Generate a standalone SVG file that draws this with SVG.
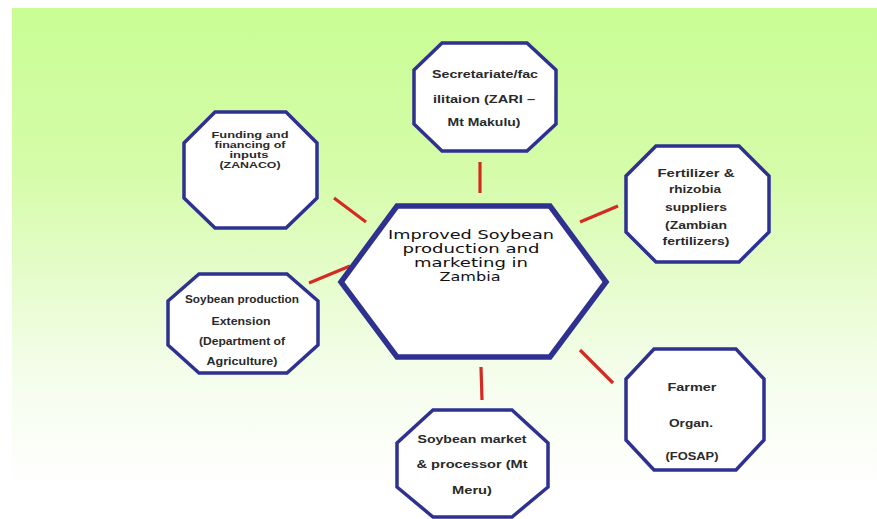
<svg xmlns="http://www.w3.org/2000/svg" width="877" height="519" viewBox="0 0 877 519">
<defs>
<linearGradient id="bg" x1="0" y1="0" x2="0" y2="1">
<stop offset="0" stop-color="#c9fd94"/>
<stop offset="0.35" stop-color="#d6fcaa"/>
<stop offset="0.75" stop-color="#f4fdea"/>
<stop offset="1" stop-color="#ffffff"/>
</linearGradient>
<style>
.oct{fill:#fff;stroke:#2e3190;stroke-width:3.5;stroke-linejoin:miter}
.hex{fill:#fff;stroke:#2e3190;stroke-width:5.5}
.lbl{font-family:"Liberation Sans",Arial,sans-serif;font-size:11.5px;font-weight:bold;fill:#2a2a2a;text-anchor:middle}
.sm{font-size:9.5px}
.ctr{font-family:"DejaVu Sans",sans-serif;font-size:12px;fill:#111;text-anchor:middle}
.con line{stroke:#d42a22;stroke-width:3.2;stroke-linecap:butt}
</style>
</defs>
<rect x="0" y="0" width="877" height="519" fill="#fff"/>
<rect x="12" y="8" width="865" height="482" fill="url(#bg)"/>

<g id="connectors" class="con">
<line x1="334" y1="198" x2="366" y2="222"/>
<line x1="480" y1="162" x2="480" y2="193"/>
<line x1="580" y1="222" x2="618" y2="206"/>
<line x1="309" y1="283" x2="350" y2="266"/>
<line x1="580" y1="350" x2="613" y2="383"/>
<line x1="481" y1="367" x2="482" y2="400"/>
</g>

<g id="center">
<polygon class="hex" points="397,206 550,206 606,282 550,357 397,357 341,282"/>
<text class="ctr"><tspan x="471" y="239" textLength="166" lengthAdjust="spacingAndGlyphs">Improved Soybean</tspan><tspan x="471" y="253" textLength="137" lengthAdjust="spacingAndGlyphs">production and</tspan><tspan x="471" y="267" textLength="114" lengthAdjust="spacingAndGlyphs">marketing in</tspan><tspan x="470" y="281" textLength="61" lengthAdjust="spacingAndGlyphs">Zambia</tspan></text>
</g>

<g id="funding">
<polygon class="oct" points="215,112 286,112 317,143 317,198 286,228 215,228 184,198 184,143"/>
<text class="lbl sm"><tspan x="250" y="138" textLength="77" lengthAdjust="spacingAndGlyphs">Funding and</tspan><tspan x="250" y="148" textLength="71" lengthAdjust="spacingAndGlyphs">financing of</tspan><tspan x="249" y="158" textLength="39" lengthAdjust="spacingAndGlyphs">inputs</tspan><tspan x="250" y="168" textLength="61" lengthAdjust="spacingAndGlyphs">(ZANACO)</tspan></text>
</g>

<g id="secretariate">
<polygon class="oct" points="442,43 527,43 556,70 556,124 527,151 442,151 414,124 414,70"/>
<text class="lbl"><tspan x="485" y="78" textLength="106" lengthAdjust="spacingAndGlyphs">Secretariate/fac</tspan><tspan x="484" y="103" textLength="102" lengthAdjust="spacingAndGlyphs">ilitaion (ZARI –</tspan><tspan x="484" y="126" textLength="73" lengthAdjust="spacingAndGlyphs">Mt Makulu)</tspan></text>
</g>

<g id="fertilizer">
<polygon class="oct" points="656,146 739,146 769,176 769,232 739,262 656,262 626,232 626,176"/>
<text class="lbl"><tspan x="696" y="177" textLength="77" lengthAdjust="spacingAndGlyphs">Fertilizer  &amp;</tspan><tspan x="695" y="193" textLength="52" lengthAdjust="spacingAndGlyphs">rhizobia</tspan><tspan x="696" y="211" textLength="62" lengthAdjust="spacingAndGlyphs">suppliers</tspan><tspan x="696" y="229" textLength="62" lengthAdjust="spacingAndGlyphs">(Zambian</tspan><tspan x="696" y="245" textLength="67" lengthAdjust="spacingAndGlyphs">fertilizers)</tspan></text>
</g>

<g id="extension">
<polygon class="oct" points="199,274 287,274 318,301 318,345 287,373 199,373 168,345 168,301"/>
<text class="lbl"><tspan x="242" y="303" textLength="114" lengthAdjust="spacingAndGlyphs">Soybean production</tspan><tspan x="241" y="325" textLength="59" lengthAdjust="spacingAndGlyphs">Extension</tspan><tspan x="242" y="345" textLength="86" lengthAdjust="spacingAndGlyphs">(Department of</tspan><tspan x="242" y="365" textLength="71" lengthAdjust="spacingAndGlyphs">Agriculture)</tspan></text>
</g>

<g id="farmer">
<polygon class="oct" points="654,349 736,349 764,379 764,440 736,470 654,470 626,440 626,379"/>
<text class="lbl"><tspan x="692" y="391" textLength="49" lengthAdjust="spacingAndGlyphs">Farmer</tspan><tspan x="691" y="427" textLength="44" lengthAdjust="spacingAndGlyphs">Organ.</tspan><tspan x="692" y="460" textLength="53" lengthAdjust="spacingAndGlyphs">(FOSAP)</tspan></text>
</g>

<g id="market">
<polygon class="oct" points="433,410 512,410 548,443 548,487 512,517 433,517 397,487 397,443"/>
<text class="lbl"><tspan x="472" y="443" textLength="109" lengthAdjust="spacingAndGlyphs">Soybean market</tspan><tspan x="472" y="468" textLength="111" lengthAdjust="spacingAndGlyphs">&amp; processor (Mt</tspan><tspan x="472" y="494" textLength="40" lengthAdjust="spacingAndGlyphs">Meru)</tspan></text>
</g>
</svg>
